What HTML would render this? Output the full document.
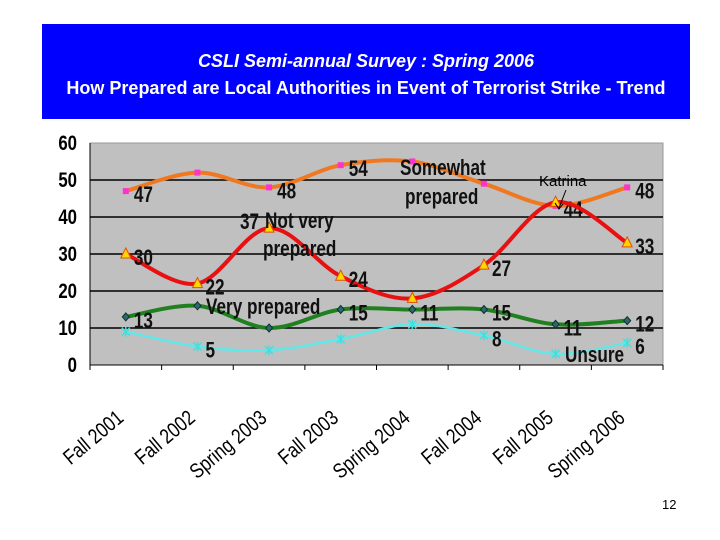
<!DOCTYPE html>
<html><head><meta charset="utf-8"><style>
body{margin:0;width:720px;height:540px;background:#fff;position:relative;overflow:hidden;font-family:"Liberation Sans",sans-serif}
#title{position:absolute;left:42px;top:24px;width:648px;height:95px;background:#0000ff;color:#fff;font-weight:bold;text-align:center}
</style></head><body>
<div id="title">
<div style="position:absolute;top:27px;width:100%;font-size:18px;font-style:italic">CSLI Semi-annual Survey : Spring 2006</div>
<div style="position:absolute;top:54px;width:100%;font-size:18px">How Prepared are Local Authorities in Event of Terrorist Strike - Trend</div>
</div>
<svg id="chart" width="720" height="540" style="position:absolute;left:0;top:0"></svg>
<div style="position:absolute;left:662px;top:497px;font-size:13px">12</div>
<script>
const categories=["Fall 2001","Fall 2002","Spring 2003","Fall 2003","Spring 2004","Fall 2004","Fall 2005","Spring 2006"];
const somewhat=[47,52,48,54,55,49,43,48];
const notVery=[30,22,37,24,18,27,44,33];
const veryPrep=[13,16,10,15,15,15,11,12];
const unsure=[9,5,4,7,11,8,3,6];
const somewhatLabels=["47","","48","54","","","44","48"];
const notVeryLabels=["30","22","","24","","27","","33"];
const veryLabels=["13","","","15","11","15","11","12"];
const unsureLabels=["","5","","","","8","","6"];
const yTicks=[0,10,20,30,40,50,60];
const svg=document.getElementById('chart');const NS='http://www.w3.org/2000/svg';
const L=90,R=663,T=143,B=365;
const x=i=>L+(i+0.5)*(R-L)/categories.length;
const y=v=>B-v*(B-T)/60;
function mk(t,a,p){const e=document.createElementNS(NS,t);for(const k in a)e.setAttribute(k,a[k]);(p||svg).appendChild(e);return e;}
const bg=mk('rect',{x:L,y:T,width:R-L,height:B-T,fill:'#c0c0c0',stroke:'#999'});

yTicks.forEach(v=>{
 if(v>0&&v<60){const g=mk('line',{x1:L,x2:R,y1:y(v),y2:y(v),stroke:'#000','stroke-width':1.5});}
 const t=mk('text',{x:0,y:0,'text-anchor':'end','font-size':21,'font-weight':'bold',transform:`translate(${L-13},${y(v)+7}) scale(0.8,1)`});t.textContent=v;
 
});
mk('line',{x1:L,x2:L,y1:T,y2:B,stroke:'#000'});mk('line',{x1:L,x2:R,y1:B,y2:B,stroke:'#000'});
for(let i=0;i<=categories.length;i++){const xx=L+i*(R-L)/categories.length;mk('line',{x1:xx,x2:xx,y1:B,y2:B+5,stroke:'#000'});}
categories.forEach((c,i)=>{const t=mk('text',{x:0,y:0,'font-size':21,'text-anchor':'end',transform:`translate(${x(i)-1},${B+55}) rotate(-40) scale(0.82,1)`});t.textContent=c;
 });
function curve(vals){const p=vals.map((v,i)=>[x(i),y(v)]);let d=`M${p[0][0]},${p[0][1]}`;
 for(let i=0;i<p.length-1;i++){const p0=p[i-1]||p[i],p1=p[i],p2=p[i+1],p3=p[i+2]||p[i+1];
 d+=` C${p1[0]+(p2[0]-p0[0])/6},${p1[1]+(p2[1]-p0[1])/6} ${p2[0]-(p3[0]-p1[0])/6},${p2[1]-(p3[1]-p1[1])/6} ${p2[0]},${p2[1]}`;}return d;}
function series(vals,labels,color,w,name,marker){
 const pth=mk('path',{d:curve(vals),fill:'none',stroke:color,'stroke-width':w});
 
 vals.forEach((v,i)=>{let m;const cx=x(i),cy=y(v);
  if(marker==='sq')m=mk('rect',{x:cx-3,y:cy-3,width:6,height:6,fill:'#ff33cc'});
  else if(marker==='tri')m=mk('path',{d:`M${cx},${cy-6}L${cx+5},${cy+4}L${cx-5},${cy+4}Z`,fill:'#ffd700',stroke:'#e05000','stroke-width':1});
  else if(marker==='dia')m=mk('path',{d:`M${cx},${cy-4}L${cx+3.5},${cy}L${cx},${cy+4}L${cx-3.5},${cy}Z`,fill:'#2a6a6a',stroke:'#103030'});
  else m=mk('path',{d:`M${cx-4},${cy-4}L${cx+4},${cy+4}M${cx+4},${cy-4}L${cx-4},${cy+4}M${cx},${cy-5}V${cy+5}`,stroke:'#40e0e0','stroke-width':1.5});
  
  if(labels[i]){const t=mk('text',{x:0,y:0,'font-size':22,'font-weight':'bold',fill:'#111',transform:`translate(${cx+8},${cy+11}) scale(0.78,1)`});t.textContent=labels[i];
  }
 });}
series(somewhat,somewhatLabels,'#f07820',4,'somewhat-prepared','sq');
series(notVery,notVeryLabels,'#e81010',4,'not-very-prepared','tri');
series(veryPrep,veryLabels,'#208020',4,'very-prepared','dia');
series(unsure,unsureLabels,'#60e8e8',2.5,'unsure','x');
function lab(txt,xx,yy,name){const t=mk('text',{x:0,y:0,'font-size':22,'font-weight':'bold',fill:'#111',transform:`translate(${xx},${yy}) scale(0.78,1)`});t.textContent=txt;}
lab('37',240,229,'not-very-prepared-value-label');
lab('Not very',265,228,'series-label-not-very');lab('prepared',263,256,'series-label-not-very-2');
lab('Very prepared',206,314,'series-label-very');
lab('Somewhat',400,175,'series-label-somewhat');lab('prepared',405,204,'series-label-somewhat-2');
lab('Unsure',565,362,'series-label-unsure');
const k=mk('text',{x:539,y:186,'font-size':15,fill:'#000'});k.textContent='Katrina';
const a=mk('path',{d:'M566,190 L559,208 M555,203 L559,209 L563,204',stroke:'#000',fill:'none'});
</script>
</body></html>
